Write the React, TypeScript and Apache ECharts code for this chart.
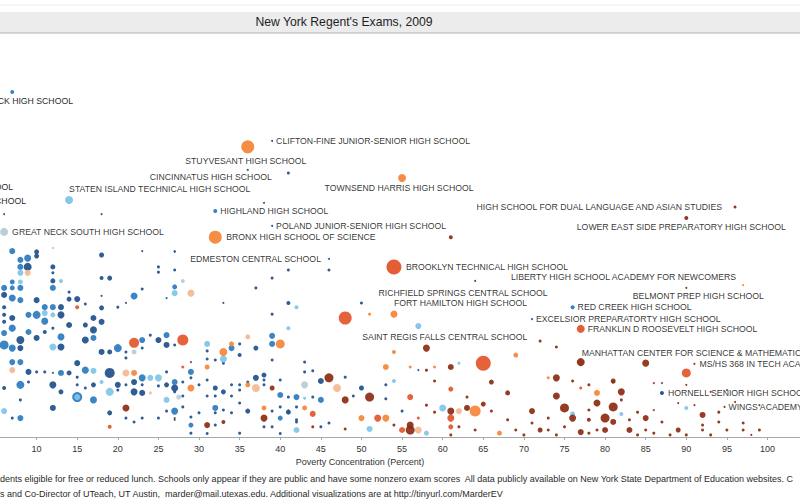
import React, { useEffect, useRef } from "react";
import * as echarts from "echarts";

// [poverty %, score, school size] per colour group
const navyPts: number[][] = [
  [10, 52.9, 5], [8.9, 48.6, 8], [12, 48.6, 5], [12, 46.9, 3], [12, 44.6, 5], [6, 40.6, 6], [10, 39.1, 6],
  [13, 37.1, 6], [14, 39.4, 5], [15, 39.4, 6], [16, 38, 3], [14, 41.4, 3], [18, 52, 5], [18, 45.4, 4],
  [19, 45.4, 5], [23, 42.3, 3], [21, 38.3, 2], [20, 37.1, 3], [18, 40.3, 2], [25, 48.6, 3], [25, 47.1, 3],
  [27, 52.9, 2], [27, 47.7, 3], [26, 39.7, 2], [6, 37.1, 4], [6, 34.9, 4], [6, 32.9, 4], [7, 34, 6],
  [8, 27.7, 8], [8, 25.4, 6], [13, 34.9, 7], [14, 32, 6], [12, 31.1, 3], [10, 28.3, 6], [11, 30, 4],
  [13, 25.7, 7], [16, 32, 5], [17, 34, 6], [17, 30.6, 7], [16, 27.7, 7], [18, 32.9, 6], [18, 36.9, 5],
  [18, 24.3, 6], [19, 24.3, 5], [21, 24.3, 3], [21, 22.6, 3], [23, 25.4, 3], [24, 29.1, 3], [25, 27.7, 6],
  [26, 26.3, 6], [27, 26.3, 3], [9, 18.6, 6], [10, 18.6, 3], [9, 15.7, 3], [11, 18.6, 3], [12, 18.3, 2],
  [12, 14.9, 7], [14, 18.3, 5], [15, 21.1, 6], [15, 17.1, 3], [19, 18.3, 10], [20, 13.4, 3], [22, 15.7, 6],
  [26, 18.6, 3], [28, 15.7, 3], [29, 16.9, 3], [27, 12.9, 3], [23, 12.6, 6], [22, 12.9, 7], [13, 12.9, 5],
  [6, 14, 4], [8, 10.6, 3], [7, 5.4, 3], [12, 8.3, 6], [19, 6.9, 5], [21, 5.4, 3], [22, 4.3, 3],
  [26, 7.4, 3], [28, 8.6, 3], [29, 5.7, 3], [15, 14.9, 3], [16, 14, 3], [17, 14.9, 5], [20, 14.9, 6],
  [21, 14.9, 3], [23, 14.9, 3], [25, 14.6, 3], [26, 14.9, 5], [27, 14, 7], [30, 14.9, 3], [31, 16.3, 3],
  [34, 14.9, 3], [35, 14.9, 3], [38, 14.9, 3], [40, 16.3, 3], [28, 11.7, 3], [31, 11.7, 3], [32, 11.7, 3],
  [34, 11.7, 3], [35, 13.4, 3], [35, 9.7, 3], [41, 11.4, 3], [44, 11.4, 3], [49, 11.7, 3], [53, 14.9, 3],
  [25, 5.4, 3], [27, 4.9, 2], [30, 6.9, 3], [32, 6.9, 3], [33, 7.7, 3], [34, 6.9, 3], [39, 7.4, 3],
  [40, 8.6, 3], [41, 7.4, 3], [42, 8.6, 3], [42, 4.3, 3], [45, 2.9, 3], [46, 4, 3], [39, 2.9, 3],
  [38, 2.9, 3], [32, 3.4, 3], [29, 1.1, 3], [23, 5.4, 3], [41, 47.7, 3], [46, 47.7, 3], [39, 45.4, 3],
  [37, 42.6, 3], [39, 35.1, 3], [41, 38.3, 4], [31, 24.6, 3], [31, 22.3, 3], [32, 22, 3], [33, 21.1, 3],
  [35, 23.4, 4], [37, 25.4, 5], [35, 26.6, 3], [39, 22, 3], [43, 21.4, 3], [43, 18.6, 3], [44, 18.9, 3],
  [36, 15.7, 3], [37, 16.9, 6], [38, 17.7, 5], [38, 16.3, 3], [45, 16, 6], [48, 17.1, 3], [50, 14, 5],
  [33, 12.9, 5], [32, 14, 5], [36, 7.4, 5], [41, 7.1, 5], [42, 4.9, 3], [53, 10.9, 3], [55, 7.4, 3],
  [57, 19.1, 2], [64, 44.6, 2], [41, 75.4, 3], [18, 63.7, 2], [6, 63.7, 2], [23, 53.1, 2], [27, 53.1, 2],
  [10, 51.7, 5], [33, 38.3, 2], [38, 66.9, 2], [31, 1, 3], [35, 1.1, 3], [40, 1, 3]
];

const bluePts: number[][] = [
  [7, 53.1, 6], [8.9, 51.1, 7], [8, 50.6, 6], [8, 48.6, 6], [12, 42.6, 6], [6, 42.6, 6], [7, 44.3, 5],
  [7, 42.6, 5], [8, 42.6, 6], [7, 39.7, 7], [8, 39.1, 6], [11, 37.1, 6], [12, 37.1, 6], [22, 40.3, 7],
  [27, 42.9, 5], [7, 31.1, 7], [6, 29.7, 6], [6, 26.3, 9], [7, 25.4, 7], [7, 21.4, 6], [8, 21.4, 6],
  [9, 34.9, 6], [10, 34.9, 8], [11, 33.1, 7], [9, 30, 6], [13, 28.6, 7], [17, 28.3, 6], [20, 25.4, 8],
  [23, 27.7, 6], [26, 29.1, 6], [29, 18.6, 6], [13, 18.3, 6], [16, 19.1, 7], [23, 16.9, 7], [8, 14.9, 8],
  [17, 10.6, 7], [27, 15.7, 6], [27, 7.4, 7], [8, 5.4, 6], [39, 28.9, 6], [39, 26.6, 6], [34, 25.4, 6],
  [40, 12, 6], [42, 11.4, 6], [45, 10.6, 6], [32, 8.3, 6], [40, 5.4, 5], [29, 3.4, 5], [15, 11.4, 10],
  [7, 98.6, 4]
];

const lightPts: number[][] = [
  [8, 46.9, 6], [13, 44.6, 4], [27, 41.1, 6], [8, 44.3, 5], [11, 35.4, 6], [12, 34.9, 5], [12, 25.7, 7],
  [17, 18.9, 6], [18, 15.7, 4], [19, 12.9, 8], [24, 16.9, 6], [25, 16.9, 7], [26, 10.6, 6], [6, 7.4, 6],
  [15, 11.4, 6], [31, 26.6, 6], [33, 22.3, 7], [41, 31.1, 4], [42, 37.1, 4], [54, 16, 4], [51, 2.3, 6],
  [42, 2, 6], [58, 1.1, 5], [60, 8.3, 7], [62, 21.1, 3], [76, 6.6, 5], [82, 6.6, 4], [90, 8.3, 4],
  [12, 54, 2], [43, 11.1, 3]
];

const grayPts: number[][] = [
  [28, 44.6, 4], [22, 24.3, 5], [27.5, 11.4, 5], [43, 14.9, 7]
];

const peachPts: number[][] = [
  [8.9, 46.9, 6], [29, 41.1, 7], [7, 19.1, 6], [21, 18.3, 7], [36, 28.6, 5], [37, 14, 8], [47, 14, 8],
  [57, 2, 7], [62, 7.4, 6], [24, 12.6, 3]
];

const orangePts: number[][] = [
  [22, 18.3, 6], [29, 14, 7], [34, 26.6, 5], [33, 24.3, 8], [40, 26.6, 9], [31, 20, 5], [36, 14.9, 5],
  [43, 8.3, 5], [53, 20, 6], [54, 24.3, 4], [50, 5.4, 6], [53, 5.4, 7], [69, 23.4, 5], [59, 20, 3],
  [56, 20, 3], [64, 7.4, 11], [73, 16.9, 3], [79, 12.6, 6], [67, 1.1, 5], [51, 35.1, 3], [38, 8.3, 5]
];

const redPts: number[][] = [
  [15, 37.1, 4], [22, 26.9, 10], [28, 27.7, 11], [28, 20, 3], [19, 2.9, 4], [48, 34, 13], [44, 6.6, 6],
  [52, 5.4, 7], [56, 11.4, 6], [61, 13.7, 5], [61, 5.4, 7], [61, 2.9, 5], [55, 2, 6], [65, 21.1, 15],
  [90, 18.3, 9], [77, 14, 3], [57, 5.4, 3]
];

const darkPts: number[][] = [
  [21, 8.3, 7], [29, 21.4, 2], [27, 5.4, 2], [46, 16.9, 9], [48, 10.6, 7], [51, 11.4, 9], [39, 14, 5],
  [33, 4.3, 4], [31, 3.4, 6], [38, 5.4, 7], [44, 2.9, 3], [48, 2.3, 3], [54, 3.4, 3], [58, 25.4, 7],
  [72, 27.4, 3], [74, 25.7, 3], [61, 20, 6], [58, 19.1, 3], [59, 16, 3], [63, 11.4, 3], [66, 15.7, 5],
  [74, 16.9, 7], [76, 16, 3], [78, 14.9, 3], [81, 15.7, 3], [75, 8.3, 9], [76, 5.4, 7], [74, 11.7, 7],
  [72, 2, 5], [71, 7.4, 6], [68, 12.6, 5], [66, 7.4, 3], [65, 9.4, 5], [63, 8.3, 6], [61, 7.4, 7],
  [56, 3.4, 7], [56, 2, 9], [59, 7.1, 3], [58, 9.1, 3], [62, 2.9, 3], [69, 2, 3], [70, 0.6, 3],
  [73, 2, 3], [75, 2.9, 3], [77, 1.4, 6], [79, 9.7, 7], [80, 5.4, 9], [81, 8.6, 9], [81, 4.3, 6],
  [80, 2, 6], [79, 2, 3], [83, 2, 6], [83, 4.9, 3], [84, 7.1, 3], [85, 5.4, 6], [85, 21.1, 7],
  [81, 16, 5], [82, 12.9, 7], [82, 10.6, 3], [87, 4.3, 3], [89, 2, 5], [88, 0.6, 3], [92, 6.3, 6],
  [92, 3.4, 3], [92, 2, 3], [94, 4.3, 3], [95, 2, 3], [97, 4, 3], [97, 2, 3], [99, 2, 3], [61, 57.1, 4],
  [86, 15.4, 2], [87, 15.4, 2], [90, 14.9, 2], [93, 12.9, 2], [95, 13.4, 2], [89, 9.7, 2], [86, 7.7, 2],
  [90, 0.6, 3], [93, 0.6, 3], [98, 0.6, 2], [74, 0.6, 3], [78, 1.1, 3], [84, 0.6, 3], [86, 1.1, 3],
  [61, 0.6, 3], [64, 2, 3], [68, 4.9, 3], [71, 4, 3], [73, 5.4, 3], [78, 4.9, 4], [78, 7.7, 3],
  [85, 2, 3], [94, 7.1, 3], [91, 9.1, 2], [96, 10, 2], [99, 9.1, 2]
];

// named schools: [name, poverty %, score, size, colour group]
const labeledSchools: [string, number, number, number, string][] = [
  ["STATEN ISLAND TECHNICAL HIGH SCHOOL", 14, 67.7, 8, "light"],
  ["GREAT NECK SOUTH HIGH SCHOOL", 6, 58.6, 8, "gray"],
  ["STUYVESANT HIGH SCHOOL", 36, 82.9, 13, "orange"],
  ["CLIFTON-FINE JUNIOR-SENIOR HIGH SCHOOL", 39, 84.6, 2, "navy"],
  ["CINCINNATUS HIGH SCHOOL", 36, 76.3, 2, "navy"],
  ["TOWNSEND HARRIS HIGH SCHOOL", 55, 74, 8, "orange"],
  ["HIGHLAND HIGH SCHOOL", 32, 64.6, 4, "blue"],
  ["POLAND JUNIOR-SENIOR HIGH SCHOOL", 39, 60.3, 2, "navy"],
  ["BRONX HIGH SCHOOL OF SCIENCE", 32, 57.1, 13, "orange"],
  ["HIGH SCHOOL FOR DUAL LANGUAGE AND ASIAN STUDIES", 96, 65.7, 3, "dark"],
  ["LOWER EAST SIDE PREPARATORY HIGH SCHOOL", 90, 62.6, 4, "dark"],
  ["EDMESTON CENTRAL SCHOOL", 46, 50.9, 2, "navy"],
  ["BROOKLYN TECHNICAL HIGH SCHOOL", 54, 48.6, 15, "red"],
  ["LIBERTY HIGH SCHOOL ACADEMY FOR NEWCOMERS", 97, 43.4, 2, "orange"],
  ["RICHFIELD SPRINGS CENTRAL SCHOOL", 50, 38.3, 3, "navy"],
  ["FORT HAMILTON HIGH SCHOOL", 54, 35.1, 7, "orange"],
  ["SAINT REGIS FALLS CENTRAL SCHOOL", 57, 31.7, 6, "light"],
  ["BELMONT PREP HIGH SCHOOL", 90, 42.6, 2, "dark"],
  ["RED CREEK HIGH SCHOOL", 76, 37.1, 4, "blue"],
  ["EXCELSIOR PREPARATORTY HIGH SCHOOL", 71, 33.7, 2, "navy"],
  ["FRANKLIN D ROOSEVELT HIGH SCHOOL", 77, 30.9, 8, "red"],
  ["MANHATTAN CENTER FOR SCIENCE & MATHEMATICS", 77, 21.4, 8, "dark"],
  ["MS/HS 368 IN TECH ACADEMY", 91, 20.9, 2, "dark"],
  ["HORNELL SENIOR HIGH SCHOOL", 87, 12.6, 4, "navy"],
  ["WINGS ACADEMY", 94.7, 8.6, 2, "dark"]
];

const xTicksInterval = 5;
const titleText = "New York Regent's Exams, 2009";
const axisTitle = "Poverty Concentration (Percent)";
const footerLines = [
  "dents eligible for free or reduced lunch. Schools only appear if they are public and have some nonzero exam scores  All data publicly available on New York State Department of Education websites. C",
  "s and Co-Director of UTeach, UT Austin,  marder@mail.utexas.edu. Additional visualizations are at http://tinyurl.com/MarderEV"
];
const cutLabels = ["CK HIGH SCHOOL", "OOL", "CHOOL"];

// presentation only
const palette: Record<string, string> = {
  navy: "#1f4f8c",
  blue: "#2b7bbf",
  light: "#7fc4e8",
  gray: "#b7ccd4",
  peach: "#f3b88f",
  orange: "#f5873a",
  red: "#e3552a",
  dark: "#8d2b12"
};
const labelPlacement: Record<string, [string, number, number]> = {
  "STATEN ISLAND TECHNICAL HIGH SCHOOL": ["left", 0, -11],
  "GREAT NECK SOUTH HIGH SCHOOL": ["left", 8, 0],
  "STUYVESANT HIGH SCHOOL": ["center", -2, 14],
  "CLIFTON-FINE JUNIOR-SENIOR HIGH SCHOOL": ["left", 4, 0],
  "CINCINNATUS HIGH SCHOOL": ["center", -37, 7],
  "TOWNSEND HARRIS HIGH SCHOOL": ["center", -3, 10],
  "HIGHLAND HIGH SCHOOL": ["left", 5, 0],
  "POLAND JUNIOR-SENIOR HIGH SCHOOL": ["left", 4, 0],
  "BRONX HIGH SCHOOL OF SCIENCE": ["left", 11, 0],
  "HIGH SCHOOL FOR DUAL LANGUAGE AND ASIAN STUDIES": ["right", -13, 0],
  "LOWER EAST SIDE PREPARATORY HIGH SCHOOL": ["center", -5, 9],
  "EDMESTON CENTRAL SCHOOL": ["right", -8, 0],
  "BROOKLYN TECHNICAL HIGH SCHOOL": ["left", 12, 0],
  "LIBERTY HIGH SCHOOL ACADEMY FOR NEWCOMERS": ["right", -7, -8],
  "RICHFIELD SPRINGS CENTRAL SCHOOL": ["left", 17, -10],
  "FORT HAMILTON HIGH SCHOOL": ["left", 0, -11],
  "SAINT REGIS FALLS CENTRAL SCHOOL": ["left", -56, 11],
  "BELMONT PREP HIGH SCHOOL": ["center", 12, 8],
  "RED CREEK HIGH SCHOOL": ["left", 5, 0],
  "EXCELSIOR PREPARATORTY HIGH SCHOOL": ["left", 4, 0],
  "FRANKLIN D ROOSEVELT HIGH SCHOOL": ["left", 7, 0],
  "MANHATTAN CENTER FOR SCIENCE & MATHEMATICS": ["left", 1, -9],
  "MS/HS 368 IN TECH ACADEMY": ["left", 5, 0],
  "HORNELL SENIOR HIGH SCHOOL": ["left", 6, 0],
  "WINGS ACADEMY": ["left", 4, 0]
};
const cutLabelPos: [number, number][] = [[73, 101], [13, 187], [26, 201]];

const FONT = "'Liberation Sans', Arial, Helvetica, sans-serif";

export default function App() {
  const ref = useRef<HTMLDivElement>(null);
  useEffect(() => {
    if (!ref.current) return;
    const chart = echarts.init(ref.current, undefined, { renderer: "svg" });
    const groups: [string, number[][]][] = [
      ["navy", navyPts], ["blue", bluePts], ["light", lightPts], ["gray", grayPts],
      ["peach", peachPts], ["orange", orangePts], ["red", redPts], ["dark", darkPts]
    ];
    const series: any[] = groups.map(([key, pts]) => ({
      type: "scatter",
      name: key,
      data: pts,
      symbolSize: (v: number[]) => v[2],
      itemStyle: { color: palette[key], opacity: 0.92 },
      silent: true,
      z: 2
    }));
    series.push({
      type: "scatter",
      name: "labeled",
      silent: true,
      z: 5,
      symbolSize: (v: number[]) => v[2],
      data: labeledSchools.map(([name, x, y, s, g]) => {
        const p = labelPlacement[name] || ["left", 5, 0];
        return {
          name,
          value: [x, y, s],
          itemStyle: { color: palette[g], opacity: 0.95 },
          label: {
            show: true,
            formatter: name,
            position: "inside",
            align: p[0],
            verticalAlign: "middle",
            offset: [p[1], p[2]],
            color: "#2a2a2a",
            fontSize: 8.7,
            fontFamily: FONT
          }
        };
      })
    });

    const graphics: any[] = [
      { type: "line", shape: { x1: 0, y1: 5, x2: 800, y2: 5 }, style: { stroke: "#ececec", lineWidth: 1 }, silent: true },
      { type: "rect", shape: { x: 0, y: 12, width: 800, height: 21 }, style: { fill: "#ececed" }, silent: true, z: -1 },
      { type: "line", shape: { x1: 0, y1: 33, x2: 800, y2: 33 }, style: { stroke: "#b3b3b3", lineWidth: 1 }, silent: true },
      {
        type: "text", x: 344, y: 22,
        style: { text: titleText, fill: "#1e1e1e", font: `12.2px ${FONT}`, textAlign: "center", textVerticalAlign: "middle" },
        silent: true
      },
      {
        type: "text", x: 360, y: 462,
        style: { text: axisTitle, fill: "#333", font: `9px ${FONT}`, textAlign: "center", textVerticalAlign: "middle" },
        silent: true
      },
      ...footerLines.map((t, i) => ({
        type: "text", x: 0, y: 479 + i * 14.5,
        style: { text: t, fill: "#2a2a2a", font: `9px ${FONT}`, textAlign: "left", textVerticalAlign: "middle" },
        silent: true
      })),
      ...cutLabels.map((t, i) => ({
        type: "text", x: cutLabelPos[i][0], y: cutLabelPos[i][1],
        style: { text: t, fill: "#2a2a2a", font: `8.7px ${FONT}`, textAlign: "right", textVerticalAlign: "middle" },
        silent: true
      }))
    ];

    chart.setOption({
      animation: false,
      backgroundColor: "#ffffff",
      grid: { left: -4, right: 0, top: 87, bottom: 63, containLabel: false, outerBoundsMode: "none" },
      xAxis: {
        type: "value",
        min: 5,
        max: 104,
        interval: xTicksInterval,
        axisLine: { show: true, lineStyle: { color: "#a8a8a8", width: 1 } },
        axisTick: { show: true, length: 3, lineStyle: { color: "#a8a8a8" } },
        axisLabel: { color: "#333", fontSize: 9, fontFamily: FONT, margin: 7, showMinLabel: false, showMaxLabel: false },
        splitLine: { show: false }
      },
      yAxis: { type: "value", min: 0, max: 100, show: false, splitLine: { show: false } },
      series,
      graphic: graphics
    });
    return () => chart.dispose();
  }, []);
  return <div ref={ref} style={{ position: "fixed", left: 0, top: 0, width: 800, height: 500 }} />;
}
